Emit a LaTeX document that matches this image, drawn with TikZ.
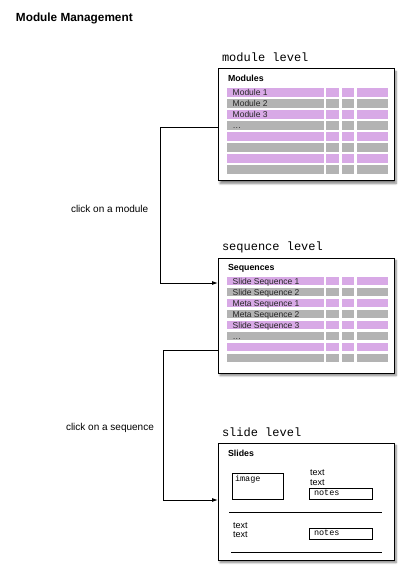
\documentclass[tikz,border=0pt]{standalone}
\usepackage{fontspec}
\setmainfont{Liberation Sans}
\setmonofont{Liberation Mono}
\usetikzlibrary{positioning, arrows.meta, shadows.blur}
\definecolor{rowPurple}{HTML}{D8A9E6}
\definecolor{rowGray}{HTML}{B3B3B3}

\begin{document}
\begin{tikzpicture}[
  x=1pt, y=-1pt,
  every node/.style={inner sep=0pt, outer sep=0pt},
  levelbox/.style={
    draw=black, line width=1pt, fill=white,
    anchor=north west, minimum width=176pt, minimum height=#1,
    blur shadow={shadow xshift=2pt, shadow yshift=-2.5pt,
      shadow blur steps=6, shadow opacity=50}
  },
  levellabel/.style={font=\ttfamily\fontsize{12}{14}\selectfont, anchor=base west},
  boxhead/.style={font=\bfseries\fontsize{8.8}{10}\selectfont, anchor=base west},
  rowtext/.style={font=\fontsize{8.5}{9}\selectfont, text=black!85, anchor=base west},
  slidetext/.style={font=\fontsize{9}{10}\selectfont, anchor=base west, align=left},
  monotext/.style={font=\ttfamily\fontsize{8.5}{10}\selectfont, anchor=base west},
  innerbox/.style={draw=black, line width=0.8pt, anchor=north west},
  clicklabel/.style={font=\fontsize{10}{12}\selectfont, anchor=west},
  link/.style={draw=black, line width=0.9pt, -{Latex[length=6pt, width=4pt]}},
]
\useasboundingbox (0,0) rectangle (415,585);

% Title
\node[font=\bfseries\fontsize{11.8}{14}\selectfont, anchor=base west] (title) at (16,21.3) {Module Management};

% Module level
\node[levelbox=112pt] (modbox) at (218,69) {};
\node[levellabel] (modlabel) at ([xshift=4pt, yshift=7pt]modbox.north west) {module level};
\node[boxhead] (modhead) at ([xshift=10pt, yshift=-12.7pt]modbox.north west) {Modules};
\foreach \lbl/\col [count=\r from 0] in {Module 1/rowPurple, Module 2/rowGray, Module 3/rowPurple,
    \ldots/rowGray, {}/rowPurple, {}/rowGray, {}/rowPurple, {}/rowGray} {
  \foreach \xa/\xb in {226.7/324, 326/339.3, 341.7/354, 356.7/388.3}
    \fill[\col] (\xa,{88.3+11*\r}) rectangle (\xb,{96.8+11*\r});
  \node[rowtext] (mod-\r) at (232.7,{95.7+11*\r}) {\lbl};
}

% Sequence level
\node[levelbox=115pt] (seqbox) at (218,258) {};
\node[levellabel] (seqlabel) at ([xshift=4pt, yshift=7.5pt]seqbox.north west) {sequence level};
\node[boxhead] (seqhead) at ([xshift=10pt, yshift=-12pt]seqbox.north west) {Sequences};
\foreach \lbl/\col [count=\r from 0] in {Slide Sequence 1/rowPurple, Slide Sequence 2/rowGray,
    Meta Sequence 1/rowPurple, Meta Sequence 2/rowGray, Slide Sequence 3/rowPurple,
    \ldots/rowGray, {}/rowPurple, {}/rowGray} {
  \foreach \xa/\xb in {226.7/324, 326/339.3, 341.7/354, 356.7/388.3}
    \fill[\col] (\xa,{276.7+11*\r}) rectangle (\xb,{285.2+11*\r});
  \node[rowtext] (seq-\r) at (232.7,{284.1+11*\r}) {\lbl};
}

% Slide level
\node[levelbox=117pt] (slidebox) at (218,443) {};
\node[levellabel] (slidelabel) at ([xshift=4pt, yshift=6.5pt]slidebox.north west) {slide level};
\node[boxhead] (slidehead) at ([xshift=10pt, yshift=-13pt]slidebox.north west) {Slides};
\node[innerbox, minimum width=51pt, minimum height=26pt] (imgbox) at (232,473) {};
\node[monotext] (imglabel) at ([xshift=3pt, yshift=-8.3pt]imgbox.north west) {image};
\node[slidetext] (text1a) at (310,475.7) {text};
\node[slidetext] (text1b) at (310,485.3) {text};
\node[innerbox, minimum width=63pt, minimum height=11pt] (notes1) at (309,488) {};
\node[monotext] (notes1label) at ([xshift=5pt, yshift=-7.4pt]notes1.north west) {notes};
\draw[line width=0.8pt] (229.3,512) -- (381.7,512);
\node[slidetext] (text2a) at (233,528.3) {text};
\node[slidetext] (text2b) at (233,537.3) {text};
\node[innerbox, minimum width=63pt, minimum height=11pt] (notes2) at (309,528) {};
\node[monotext] (notes2label) at ([xshift=5pt, yshift=-7.4pt]notes2.north west) {notes};
\draw[line width=0.8pt] (231,552) -- (381.7,552);

% Connections
\coordinate (modout) at (modbox.west |- 0,127);
\coordinate (seqin) at (seqbox.west |- 0,283);
\coordinate (seqout) at (seqbox.west |- 0,350);
\coordinate (slidein) at (slidebox.west |- 0,500);
\draw[link] (modout) -- ++(-57.3,0) |- (seqin);
\draw[link] (seqout) -- ++(-54.3,0) |- (slidein);

% Labels
\node[clicklabel] (clickmod) at (71,209) {click on a module};
\node[clicklabel] (clickseq) at (66,428) {click on a sequence};

\end{tikzpicture}
\end{document}
